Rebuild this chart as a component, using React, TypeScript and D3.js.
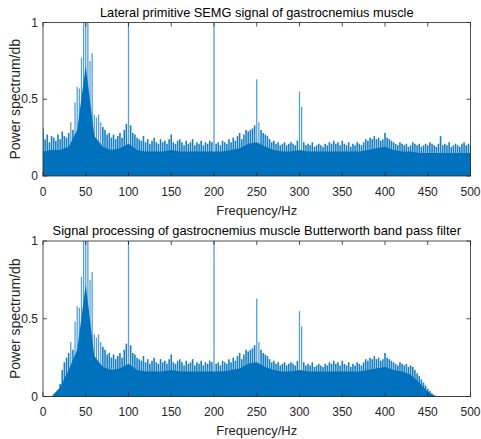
import React from "react";
import * as d3 from "d3";

// Frequency bins (Hz) for the peak envelope: 0, 2.5, ..., 500
const peakFreqs: number[] = d3.range(0, 500.01, 2.5);
// Body (dense solid fill) sampled every 10 Hz
const bodyFreqs: number[] = d3.range(0, 500.01, 10);

const xTicks = [0, 50, 100, 150, 200, 250, 300, 350, 400, 450, 500];
const yTicks = [0, 0.5, 1];
const yTickLabels = ["0", "0.5", "1"];

const rawTitle = "Lateral primitive SEMG signal of gastrocnemius muscle";
const filtTitle = "Signal processing of gastrocnemius muscle Butterworth band pass filter";
const xLabel = "Frequency/Hz";
const yLabel = "Power spectrum/db";

// Raw spectrum: peak value in each 2.5 Hz bin
const rawPeaks: number[] = [
  0.31, 0.24, 0.27, 0.22, 0.26, 0.25, 0.23, 0.27, 0.24, 0.29, 0.26, 0.25, 0.28, 0.35, 0.30, 0.48, 0.58, 0.57, 0.77, 1.0,
  1.0, 1.0, 0.75, 0.80, 0.40, 0.38, 0.40, 0.35, 0.32, 0.30, 0.27, 0.28, 0.25, 0.27, 0.24, 0.26, 0.28, 0.25, 0.30, 0.34,
  1.0, 0.33, 0.28, 0.27, 0.25, 0.24, 0.23, 0.26, 0.22, 0.24, 0.21, 0.23, 0.25, 0.22, 0.21, 0.24, 0.22, 0.23, 0.21, 0.24,
  0.27, 0.22, 0.21, 0.23, 0.24, 0.22, 0.20, 0.23, 0.21, 0.22, 0.24, 0.20, 0.22, 0.21, 0.23, 0.20, 0.22, 0.21, 0.23, 0.22,
  1.0, 0.21, 0.22, 0.20, 0.23, 0.22, 0.21, 0.24, 0.22, 0.25, 0.23, 0.26, 0.28, 0.24, 0.27, 0.30, 0.29, 0.30, 0.31, 0.33,
  0.63, 0.35, 0.30, 0.28, 0.27, 0.26, 0.24, 0.22, 0.23, 0.21, 0.22, 0.20, 0.21, 0.22, 0.20, 0.21, 0.22, 0.21, 0.20, 0.23,
  0.55, 0.45, 0.22, 0.20, 0.21, 0.20, 0.22, 0.19, 0.20, 0.21, 0.20, 0.19, 0.21, 0.20, 0.22, 0.21, 0.23, 0.21, 0.22, 0.20,
  0.23, 0.21, 0.20, 0.22, 0.19, 0.21, 0.20, 0.22, 0.21, 0.20, 0.22, 0.24, 0.23, 0.25, 0.24, 0.26, 0.24, 0.25, 0.23, 0.24,
  0.28, 0.25, 0.24, 0.23, 0.22, 0.21, 0.20, 0.22, 0.21, 0.20, 0.21, 0.19, 0.20, 0.22, 0.21, 0.20, 0.21, 0.19, 0.20, 0.21,
  0.20, 0.22, 0.21, 0.20, 0.19, 0.21, 0.26, 0.20, 0.21, 0.20, 0.22, 0.19, 0.20, 0.21, 0.20, 0.19, 0.21, 0.22, 0.20, 0.21,
  0.20,
];

// Filtered spectrum: peak value in each 2.5 Hz bin
const filtPeaks: number[] = [
  0, 0, 0, 0, 0, 0, 0, 0.03, 0.08, 0.17, 0.22, 0.25, 0.28, 0.35, 0.30, 0.48, 0.58, 0.57, 0.77, 1.0,
  1.0, 1.0, 0.75, 0.80, 0.40, 0.38, 0.40, 0.35, 0.32, 0.30, 0.27, 0.28, 0.25, 0.27, 0.24, 0.26, 0.28, 0.25, 0.30, 0.34,
  1.0, 0.33, 0.28, 0.27, 0.25, 0.24, 0.23, 0.26, 0.22, 0.24, 0.21, 0.23, 0.25, 0.22, 0.21, 0.24, 0.22, 0.23, 0.21, 0.24,
  0.27, 0.22, 0.21, 0.23, 0.24, 0.22, 0.20, 0.23, 0.21, 0.22, 0.24, 0.20, 0.22, 0.21, 0.23, 0.20, 0.22, 0.21, 0.23, 0.22,
  1.0, 0.21, 0.22, 0.20, 0.23, 0.22, 0.21, 0.24, 0.22, 0.25, 0.23, 0.26, 0.28, 0.24, 0.27, 0.30, 0.29, 0.30, 0.31, 0.33,
  0.63, 0.35, 0.30, 0.28, 0.27, 0.26, 0.24, 0.22, 0.23, 0.21, 0.22, 0.20, 0.21, 0.22, 0.20, 0.21, 0.22, 0.21, 0.20, 0.23,
  0.55, 0.45, 0.22, 0.20, 0.21, 0.20, 0.22, 0.19, 0.20, 0.21, 0.20, 0.19, 0.21, 0.20, 0.22, 0.21, 0.23, 0.21, 0.22, 0.20,
  0.23, 0.21, 0.20, 0.22, 0.19, 0.21, 0.20, 0.22, 0.21, 0.20, 0.22, 0.24, 0.23, 0.25, 0.24, 0.26, 0.24, 0.25, 0.23, 0.24,
  0.28, 0.25, 0.24, 0.23, 0.22, 0.21, 0.20, 0.22, 0.21, 0.20, 0.21, 0.19, 0.20, 0.19, 0.17, 0.15, 0.13, 0.11, 0.09, 0.07,
  0.05, 0.035, 0.02, 0.01, 0.004, 0, 0, 0, 0, 0, 0, 0, 0, 0, 0, 0, 0, 0, 0, 0,
  0,
];

// Dense solid body level, every 10 Hz
const rawBody: number[] = [
  0.16, 0.17, 0.17, 0.19, 0.30, 0.72, 0.26, 0.19, 0.17, 0.18,
  0.21, 0.17, 0.16, 0.16, 0.16, 0.17, 0.16, 0.16, 0.16, 0.16,
  0.16, 0.16, 0.17, 0.18, 0.21, 0.22, 0.19, 0.17, 0.16, 0.16,
  0.17, 0.16, 0.16, 0.16, 0.16, 0.16, 0.16, 0.16, 0.17, 0.18,
  0.19, 0.17, 0.16, 0.16, 0.15, 0.15, 0.15, 0.15, 0.15, 0.15,
  0.15,
];
const filtBody: number[] = [
  0, 0, 0.06, 0.17, 0.30, 0.72, 0.26, 0.19, 0.17, 0.18,
  0.21, 0.17, 0.16, 0.16, 0.16, 0.17, 0.16, 0.16, 0.16, 0.16,
  0.16, 0.16, 0.17, 0.18, 0.21, 0.22, 0.19, 0.17, 0.16, 0.16,
  0.17, 0.16, 0.16, 0.16, 0.16, 0.16, 0.16, 0.16, 0.17, 0.18,
  0.19, 0.17, 0.16, 0.14, 0.09, 0.03, 0, 0, 0, 0,
  0,
];

const BLUE = "#0072BD";
const LIGHT = "#3a8fd0";
const AXIS = "#262626";
const FONT = "'Liberation Sans', Arial, sans-serif";

type PanelProps = {
  top: number;
  bottom: number;
  title: string;
  titleSize: number;
  peaks: number[];
  body: number[];
};

function Panel({ top, bottom, title, titleSize, peaks, body }: PanelProps) {
  const left = 43;
  const right = 470.5;
  const x = d3.scaleLinear().domain([0, 500]).range([left, right]);
  const y = d3.scaleLinear().domain([0, 1]).range([bottom, top]);
  const clamp = (v: number) => Math.min(1, Math.max(0, v));

  const area = d3
    .area<number>()
    .x((_, i) => x(bodyFreqs[i]))
    .y0(y(0))
    .y1((d) => y(clamp(d)));

  const baseLine = d3
    .line<number>()
    .x((d) => x(d))
    .y(y(0));

  const tickLen = 4;
  const midY = (top + bottom) / 2;
  const midX = (left + right) / 2;
  const clipId = `clip-${Math.round(top)}`;

  return (
    <g>
      <defs>
        <clipPath id={clipId}>
          <rect x={left} y={top} width={right - left} height={bottom - top} />
        </clipPath>
      </defs>
      <g clipPath={`url(#${clipId})`}>
        <path d={baseLine([0, 500]) || ""} stroke={BLUE} strokeWidth={1} />
        {peaks.map((v, i) => (
          <line
            key={i}
            x1={x(peakFreqs[i])}
            x2={x(peakFreqs[i])}
            y1={y(0)}
            y2={y(clamp(v))}
            stroke={v >= 0.35 ? LIGHT : BLUE}
            strokeWidth={v >= 0.35 ? 1.3 : 1.6}
            opacity={v >= 0.35 ? 0.85 : 0.9}
          />
        ))}
        <path d={area(body) || ""} fill={BLUE} />
      </g>
      <rect x={left} y={top} width={right - left} height={bottom - top} fill="none" stroke={AXIS} strokeWidth={0.8} />
      {xTicks.map((t) => (
        <g key={t}>
          <line x1={x(t)} x2={x(t)} y1={bottom} y2={bottom - tickLen} stroke={AXIS} strokeWidth={0.8} />
          <line x1={x(t)} x2={x(t)} y1={top} y2={top + tickLen} stroke={AXIS} strokeWidth={0.8} />
          <text x={x(t)} y={bottom + 19.5} textAnchor="middle" fontSize={12} fill={AXIS} fontFamily={FONT}>
            {t}
          </text>
        </g>
      ))}
      {yTicks.map((t, i) => (
        <g key={t}>
          <line x1={left} x2={left + tickLen} y1={y(t)} y2={y(t)} stroke={AXIS} strokeWidth={0.8} />
          <line x1={right} x2={right - tickLen} y1={y(t)} y2={y(t)} stroke={AXIS} strokeWidth={0.8} />
          <text x={left - 5} y={y(t) + 4} textAnchor="end" fontSize={12} fill={AXIS} fontFamily={FONT}>
            {yTickLabels[i]}
          </text>
        </g>
      ))}
      <text x={midX} y={top - 6} textAnchor="middle" fontSize={titleSize} fill="#000" fontFamily={FONT}>
        {title}
      </text>
      <text x={midX} y={bottom + 38.5} textAnchor="middle" fontSize={13} fill={AXIS} fontFamily={FONT}>
        {xLabel}
      </text>
      <text
        transform={`translate(${19.5},${midY}) rotate(-90)`}
        textAnchor="middle"
        fontSize={14}
        fill={AXIS}
        fontFamily={FONT}
      >
        {yLabel}
      </text>
    </g>
  );
}

export default function App() {
  return (
    <svg
      width={481}
      height={439}
      style={{ position: "absolute", left: 0, top: 0, background: "#fff" }}
    >
      <rect width={481} height={439} fill="#fff" />
      <Panel top={22.5} bottom={176} title={rawTitle} titleSize={12.8} peaks={rawPeaks} body={rawBody} />
      <Panel top={241} bottom={396.5} title={filtTitle} titleSize={12.9} peaks={filtPeaks} body={filtBody} />
    </svg>
  );
}
